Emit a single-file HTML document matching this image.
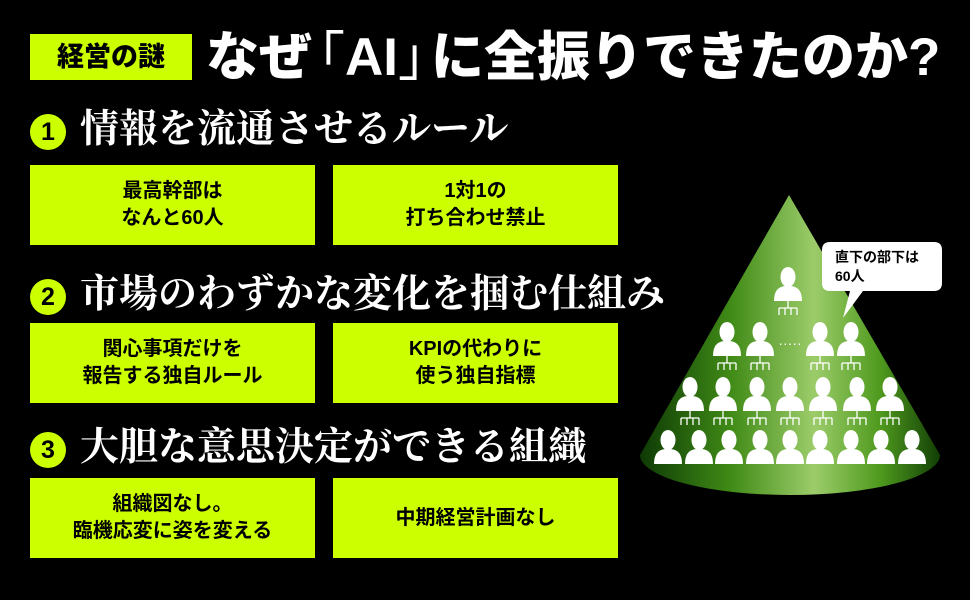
<!DOCTYPE html>
<html><head><meta charset="utf-8"><style>
body{margin:0;background:#000;width:970px;height:600px;overflow:hidden;position:relative;font-family:"Liberation Sans","Noto Sans CJK JP",sans-serif}
.abs{position:absolute}
.tag{left:30px;top:34px;width:162px;height:46px;background:#ccff00;color:#000;font-weight:900;font-size:27px;line-height:46px;text-align:center}
.title{left:206px;top:25px;color:#fff;font-weight:900;font-size:53px;line-height:66px;white-space:nowrap;letter-spacing:0px}
.num{width:36px;height:36px;border-radius:50%;background:#ccff00;color:#000;font-weight:900;font-size:25px;line-height:36px;text-align:center;left:30px}
.h{left:80px;color:#fff;font-family:"Liberation Serif","Noto Serif CJK SC",serif;font-weight:700;font-size:39px;line-height:44px;white-space:nowrap}
.box{width:285px;height:80px;background:#ccff00;color:#000;font-weight:700;font-size:20px;line-height:27px;display:flex;align-items:center;justify-content:center;text-align:center}
</style></head><body>
<div class="abs tag">経営の謎</div>
<div class="abs title">なぜ<span style="margin-left:-20px;font-weight:400">「</span>AI<span style="margin-right:-20px;font-weight:400">」</span>に全振りできたのか?</div>

<div class="abs num" style="top:114px">1</div>
<div class="abs h" style="top:108px">情報を流通させるルール</div>
<div class="abs box" style="left:30px;top:165px">最高幹部は<br>なんと60人</div>
<div class="abs box" style="left:333px;top:165px">1対1の<br>打ち合わせ禁止</div>

<div class="abs num" style="top:279px">2</div>
<div class="abs h" style="top:273px">市場のわずかな変化を掴む仕組み</div>
<div class="abs box" style="left:30px;top:323px">関心事項だけを<br>報告する独自ルール</div>
<div class="abs box" style="left:333px;top:323px">KPIの代わりに<br>使う独自指標</div>

<div class="abs num" style="top:432px">3</div>
<div class="abs h" style="top:426px">大胆な意思決定ができる組織</div>
<div class="abs box" style="left:30px;top:478px">組織図なし。<br>臨機応変に姿を変える</div>
<div class="abs box" style="left:333px;top:478px">中期経営計画なし</div>

<svg class="abs" style="left:0;top:0" width="970" height="600">
<defs>
<linearGradient id="cg" x1="0" x2="1" y1="0" y2="0">
<stop offset="0" stop-color="#0e3a05"/><stop offset="0.3" stop-color="#3f8a16"/><stop offset="0.58" stop-color="#9ccc6a"/><stop offset="0.8" stop-color="#4f9a1e"/><stop offset="1" stop-color="#123f06"/></linearGradient>
<g id="p"><ellipse cx="0" cy="-7" rx="7.5" ry="10" fill="#fff"/><path d="M-14 17 Q-14 3 -3 2 L3 2 Q14 3 14 17 Z" fill="#fff"/></g>
<g id="a" stroke="#fff" stroke-width="1.3" fill="#fff"><path d="M0 17 V24 M-9 24 H9 M-9 24 V31 M-3 24 V31 M3 24 V31 M9 24 V31" fill="none"/></g>
</defs>
<path d="M789 195 L640 455 A150 40 0 0 0 940 455 Z" fill="url(#cg)"/>
<use href="#p" x="788" y="284"/><use href="#a" x="788" y="284"/>
<g>
<use href="#p" x="727" y="339"/><use href="#a" x="727" y="339"/>
<use href="#p" x="760" y="339"/><use href="#a" x="760" y="339"/>
<use href="#p" x="820" y="339"/><use href="#a" x="820" y="339"/>
<use href="#p" x="851" y="339"/><use href="#a" x="851" y="339"/>
<text x="790" y="348" fill="#fff" font-size="14" text-anchor="middle" font-family="Liberation Sans">·····</text>
</g>
<g>
<use href="#p" x="690" y="394"/><use href="#a" x="690" y="394"/>
<use href="#p" x="723" y="394"/><use href="#a" x="723" y="394"/>
<use href="#p" x="757" y="394"/><use href="#a" x="757" y="394"/>
<use href="#p" x="790" y="394"/><use href="#a" x="790" y="394"/>
<use href="#p" x="823" y="394"/><use href="#a" x="823" y="394"/>
<use href="#p" x="857" y="394"/><use href="#a" x="857" y="394"/>
<use href="#p" x="890" y="394"/><use href="#a" x="890" y="394"/>
</g>
<g>
<use href="#p" x="668" y="447"/><use href="#p" x="699" y="447"/><use href="#p" x="729" y="447"/>
<use href="#p" x="760" y="447"/><use href="#p" x="790" y="447"/><use href="#p" x="820" y="447"/>
<use href="#p" x="851" y="447"/><use href="#p" x="881" y="447"/><use href="#p" x="912" y="447"/>
</g>
<path d="M830 242 H934 Q942 242 942 250 V283 Q942 291 934 291 H863 L843 318 L850 291 H830 Q822 291 822 283 V250 Q822 242 830 242 Z" fill="#fff"/>
<text x="835" y="262" font-size="14" font-weight="700" fill="#000" font-family="Liberation Sans, Noto Sans CJK JP, sans-serif">直下の部下は</text>
<text x="835" y="281" font-size="14" font-weight="700" fill="#000" font-family="Liberation Sans, Noto Sans CJK JP, sans-serif">60人</text>
</svg>
</body></html>
